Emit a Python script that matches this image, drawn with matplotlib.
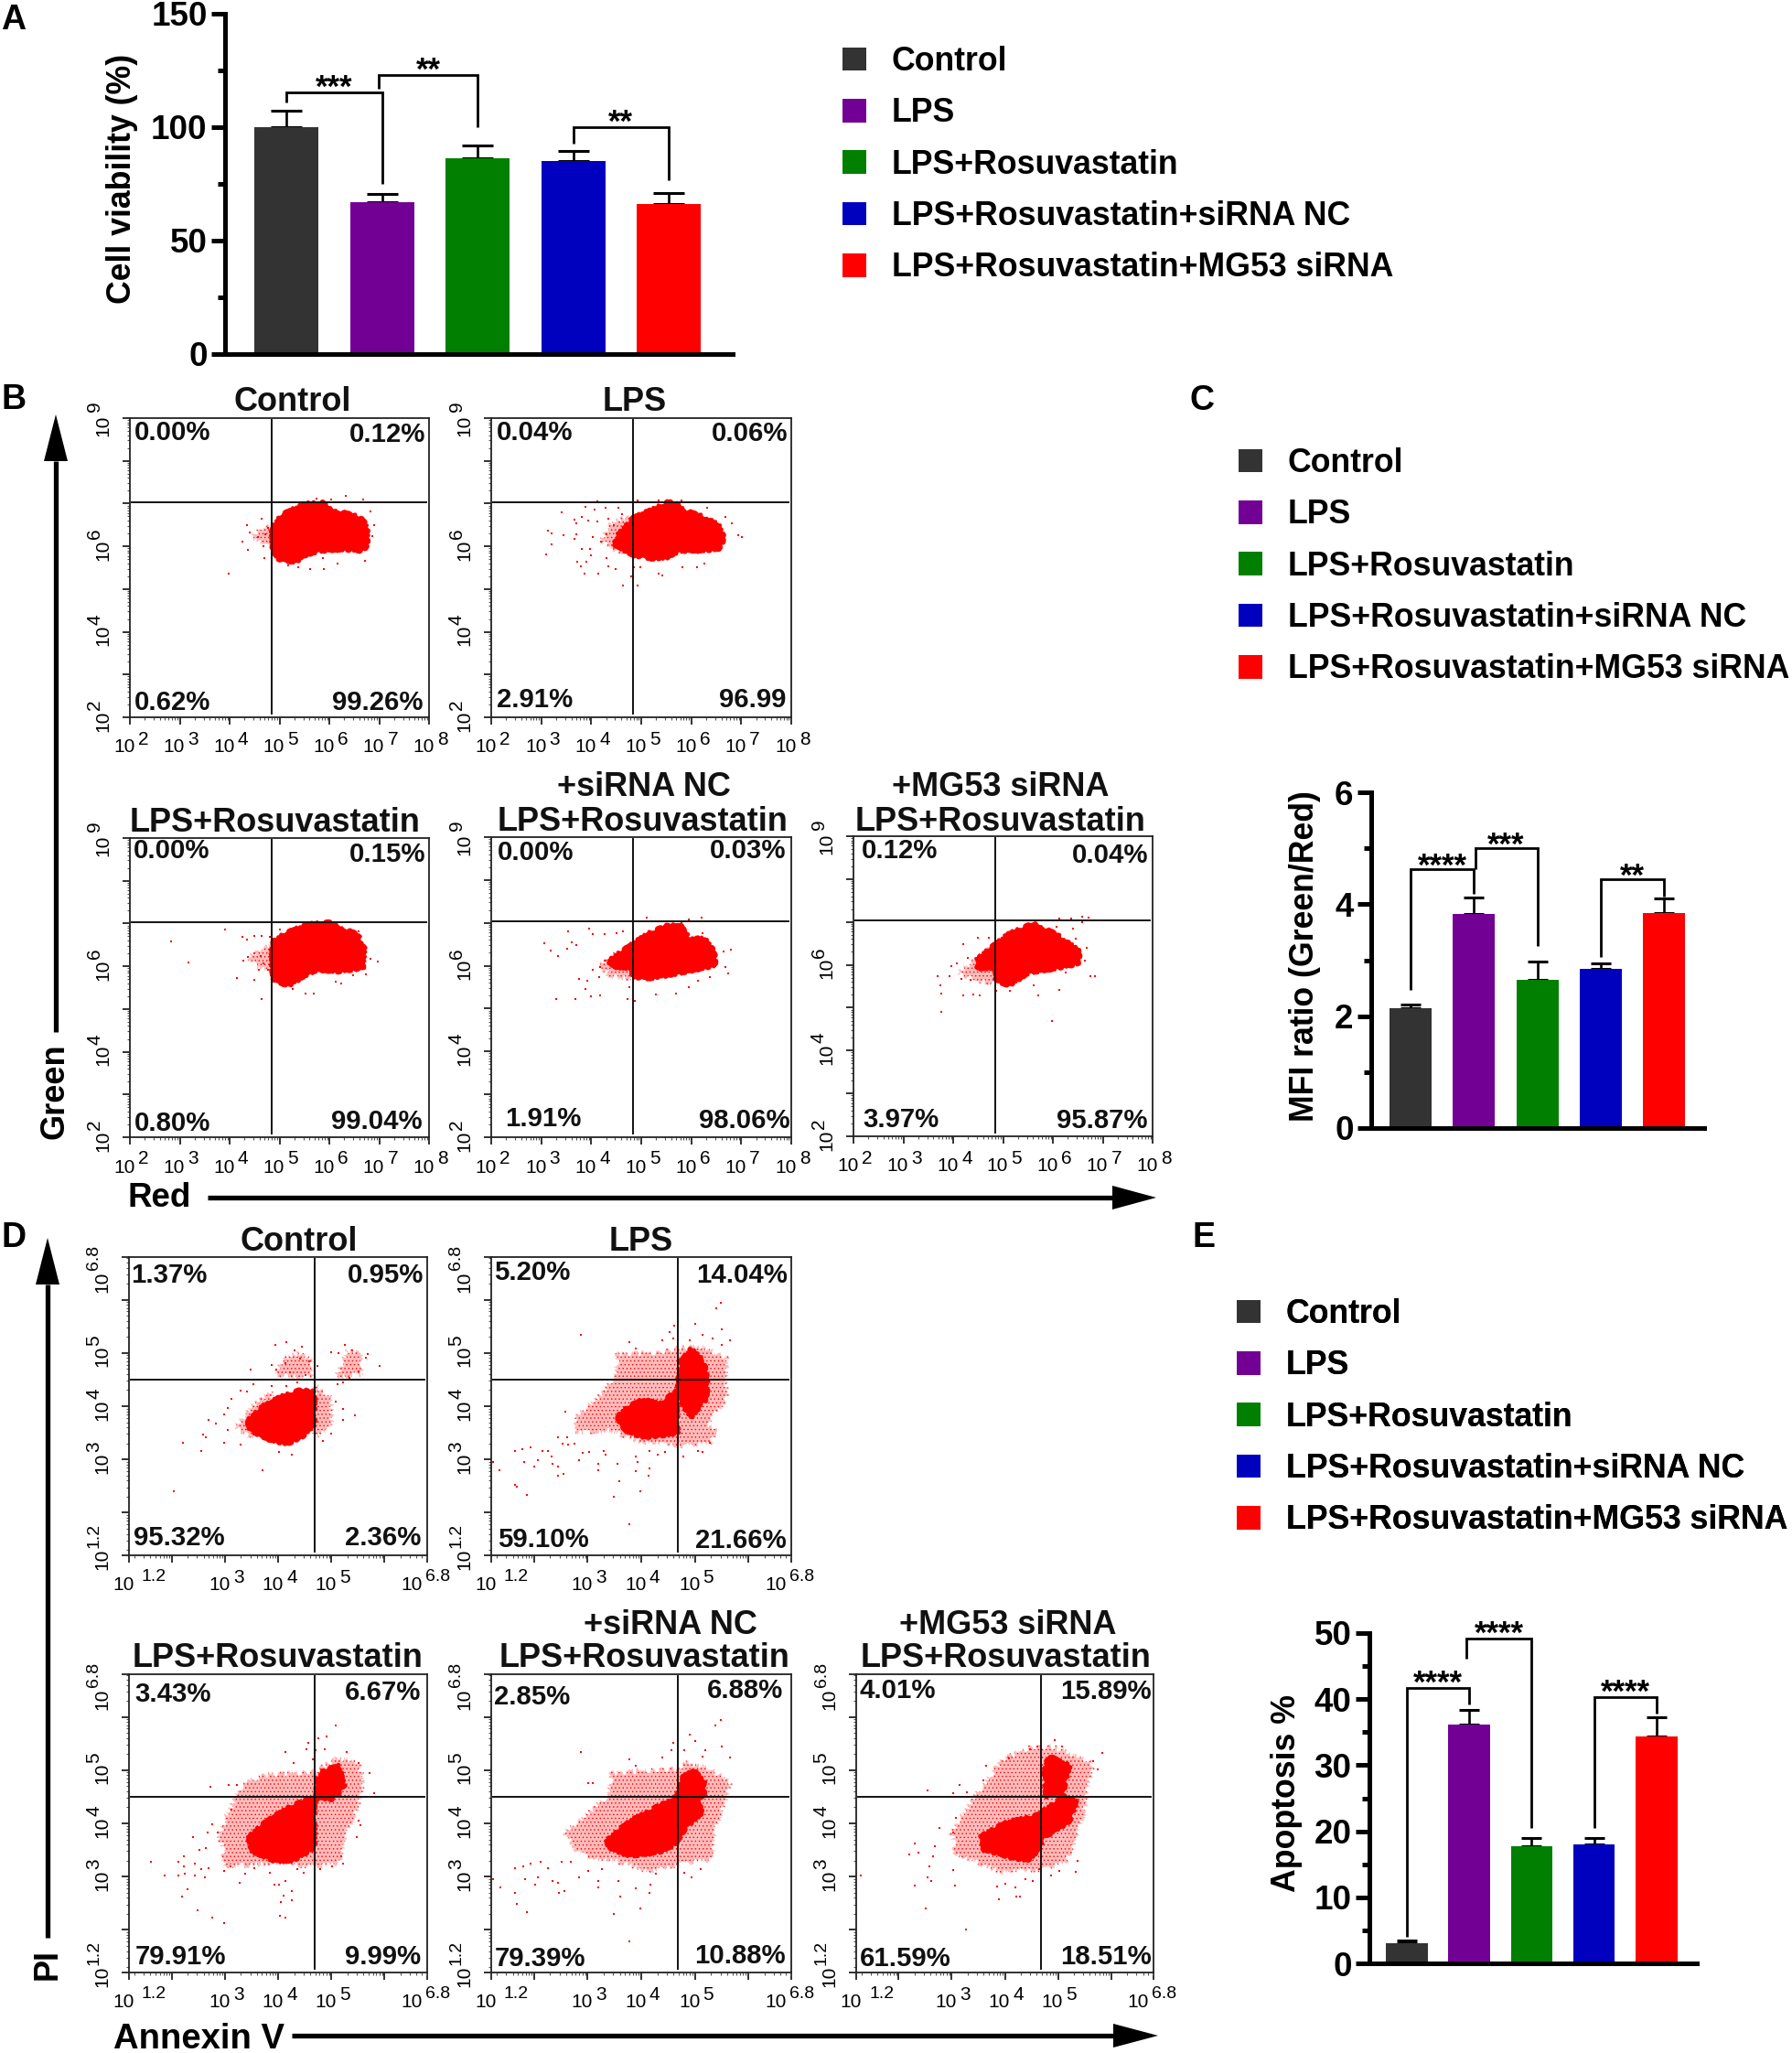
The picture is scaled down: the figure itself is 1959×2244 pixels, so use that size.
import matplotlib
matplotlib.use("Agg")
import matplotlib.pyplot as plt
import numpy as np
from matplotlib.patches import Patch, Polygon
from matplotlib.ticker import FixedLocator, NullFormatter, LogLocator

plt.rcParams['font.family'] = ['Liberation Sans', 'DejaVu Sans']
plt.rcParams['hatch.linewidth'] = 0.5

W, H = 1959, 2244
RED = '#ff0000'

# ---------- bar data ----------
GROUPS = ['Control', 'LPS', 'LPS+Rosuvastatin', 'LPS+Rosuvastatin+siRNA NC', 'LPS+Rosuvastatin+MG53 siRNA']
COLORS = ['#333333', '#730094', '#007f00', '#0000bf', '#ff0000']

VIABILITY = [100, 67, 86, 85, 66]
VIABILITY_TOP = [107, 70.5, 92, 89.5, 71]
MFI = [2.14, 3.83, 2.65, 2.84, 3.85]
MFI_TOP = [2.2, 4.12, 2.97, 2.95, 4.1]
APOPTOSIS = [3.05, 36.15, 17.7, 18.05, 34.4]
APOPTOSIS_TOP = [3.46, 38.4, 19, 19, 37.2]

# bracket: x left, x right, y of left leg end, y of bar, y of right leg end, stars
BRACKETS_A = [(0, 1, 110.7, 115, 74.8, '***'), (0.97, 2, 116.8, 123, 100, '**'), (3, 4, 92.6, 100, 76.5, '**')]
BRACKETS_C = [(0, 1, 2.47, 4.63, 4.19, '****'), (1.02, 2, 4.63, 5.0, 3.25, '***'), (3, 4, 3.05, 4.45, 4.14, '**')]
BRACKETS_E = [(0, 1, 4.06, 41.7, 39.15, '****'), (0.95, 2, 46.1, 49.2, 20.45, '****'), (3, 4, 20.45, 40.3, 37.8, '****')]

# ---------- flow cytometry: values are log10 of the channel ----------
B_GATE = (4.84, 7.03)
D_GATE = (4.68, 4.49)

B_CTRL_CORE = [[(4.85,6.43),(5.05,6.73),(5.26,6.86),(5.54,7.00),(5.87,7.02),(6.02,6.86),(6.30,6.78),(6.67,6.66),(6.76,6.36),(6.76,6.0),(6.64,5.90),(6.30,5.93),(5.81,5.90),(5.50,5.79),(5.35,5.65),(5.02,5.65),(4.86,5.93)]]
B_CTRL_SPARSE = [[(4.45,6.2),(4.62,6.42),(4.85,6.5),(4.85,5.95),(4.65,6.05)]]
B_CTRL_DOTS = [(4.34,6.50),(4.65,6.65),(4.25,6.11),(4.40,6.33),(4.56,6.22),(4.71,6.29),(4.77,6.43),(4.68,6.01),(4.37,5.92),(4.70,5.73),(3.99,5.36),(6.33,7.17),(6.67,7.09),(6.82,6.81),(6.90,6.50),(6.86,6.23),(6.71,5.65),(5.89,5.46),(5.61,5.47),(5.38,5.51),(5.17,5.56),(6.17,5.59),(5.87,5.72),(5.75,7.11),(6.04,7.09)]

B_LPS_CORE = [[(4.55,6.29),(4.86,6.68),(5.22,6.86),(5.53,7.03),(5.71,7.0),(5.89,6.83),(6.26,6.68),(6.54,6.50),(6.66,6.18),(6.54,5.93),(6.14,5.90),(5.77,5.90),(5.47,5.72),(5.16,5.72),(4.86,5.79),(4.46,6.04)]]
B_LPS_SPARSE = [[(4.2,6.1),(4.35,6.5),(4.6,6.65),(4.86,6.7),(4.86,5.8),(4.5,5.9)]]
B_LPS_DOTS = [(3.40,6.80),(3.13,6.36),(3.21,6.31),(3.44,6.27),(3.21,6.04),(3.09,5.81),(3.67,6.63),(3.71,6.53),(3.88,6.93),(3.82,6.68),(3.94,6.61),(4.06,6.86),(4.12,6.58),(4.28,6.90),(4.34,6.65),(3.70,6.28),(3.67,6.18),(4.03,6.22),(4.19,6.11),(4.30,6.29),(3.82,5.93),(3.98,5.93),(4.0,5.79),(3.72,5.64),(3.79,5.54),(3.91,5.64),(3.87,5.36),(4.14,5.36),(4.31,5.72),(4.34,5.54),(4.49,5.47),(4.64,5.09),(4.80,5.29),(4.92,5.09),(4.86,5.51),(4.98,5.51),(5.35,5.36),(5.42,5.31),(5.83,5.51),(6.11,5.51),(6.26,5.59),(6.81,7.04),(6.93,6.25),(7.01,6.22),(6.81,6.53),(6.69,6.68),(6.32,6.90),(4.92,7.07),(5.35,7.07),(5.80,7.07),(4.12,7.05),(4.55,6.90),(4.61,6.75),(4.46,6.50)]

B_ROS_CORE = [[(4.85,6.56),(5.11,6.76),(5.35,6.88),(5.63,6.99),(5.99,7.02),(6.18,6.92),(6.57,6.74),(6.70,6.42),(6.67,5.96),(6.18,5.88),(5.75,5.92),(5.50,5.78),(5.20,5.56),(4.89,5.64),(4.85,5.99)]]
B_ROS_SPARSE = [[(4.4,6.2),(4.6,6.4),(4.85,6.5),(4.85,5.9),(4.55,5.95)]]
B_ROS_DOTS = [(2.83,6.58),(3.18,6.09),(3.91,6.86),(4.14,5.73),(4.50,5.69),(4.65,5.23),(4.25,6.68),(4.34,6.63),(4.50,6.72),(4.65,6.72),(4.80,6.69),(4.28,6.13),(4.37,6.21),(4.50,6.31),(4.62,6.24),(4.59,5.92),(4.68,6.06),(4.77,5.91),(5.53,5.36),(5.68,5.36),(5.26,5.46),(6.24,5.59),(6.12,5.64),(6.47,5.78),(6.74,5.81),(6.82,6.17),(6.97,6.11),(5.0,6.86),(6.15,6.95),(6.59,6.81)]

B_NC_CORE = [[(4.36,6.12),(4.83,6.51),(5.15,6.76),(5.53,6.94),(5.76,6.98),(5.95,6.65),(6.27,6.62),(6.46,6.33),(6.48,6.01),(6.09,5.91),(5.62,5.80),(5.06,5.69),(4.83,5.76),(4.83,5.94),(4.41,5.98)]]
B_NC_SPARSE = [[(4.15,6.0),(4.5,6.3),(4.83,6.5),(4.83,5.7),(4.4,5.75)]]
B_NC_DOTS = [(3.07,6.53),(3.18,6.35),(3.33,6.23),(3.53,6.81),(3.61,6.55),(3.71,6.49),(3.52,6.40),(3.96,6.87),(4.03,6.73),(4.27,6.73),(4.50,6.76),(4.64,6.80),(3.29,5.23),(3.68,5.23),(3.99,5.29),(4.17,5.31),(3.88,5.46),(3.75,5.69),(3.92,5.66),(4.15,5.73),(4.03,5.91),(4.17,5.98),(4.27,6.12),(4.73,5.23),(4.87,5.18),(4.76,5.51),(5.29,5.32),(5.69,5.36),(5.95,5.49),(6.13,5.66),(6.37,5.73),(6.74,5.83),(6.69,5.98),(6.79,6.37),(6.65,6.33),(5.11,7.12),(5.95,7.08),(6.20,7.12),(6.23,6.76),(5.81,7.01)]

B_MG_CORE = [[(4.49,6.14),(4.86,6.49),(5.14,6.74),(5.61,6.96),(6.07,6.71),(6.54,6.31),(6.50,6.03),(6.07,5.92),(5.51,5.82),(5.14,5.53),(4.86,5.60),(4.86,5.92),(4.49,5.92)]]
B_MG_SPARSE = [[(4.1,5.8),(4.5,6.2),(4.86,6.5),(4.86,5.55),(4.4,5.65)]]
B_MG_DOTS = [(3.69,5.73),(3.74,5.53),(3.77,5.32),(3.77,4.91),(3.97,5.96),(3.93,5.74),(4.21,5.28),(4.41,5.30),(4.53,5.28),(4.21,6.49),(4.49,6.64),(4.72,6.64),(4.07,6.03),(4.30,6.17),(4.16,5.67),(4.35,5.64),(5.98,4.69),(5.70,5.28),(6.12,5.41),(5.61,5.53),(6.26,5.82),(6.76,5.74),(6.84,5.73),(6.64,6.10),(6.68,6.39),(6.59,6.99),(6.71,7.11),(6.59,7.12),(6.36,7.08),(6.12,7.08),(5.79,7.04),(6.07,6.89),(6.40,6.85),(6.45,6.60),(5.14,5.39),(4.86,5.39)]

D_CTRL_CORE = [[(3.42,3.72),(3.70,3.98),(4.05,4.18),(4.39,4.29),(4.68,4.29),(4.68,3.66),(4.45,3.43),(4.16,3.29),(3.82,3.38),(3.48,3.55)]]
D_CTRL_SPARSE = [[(4.68,4.4),(5.0,4.15),(5.0,3.6),(4.68,3.4)],[(5.1,4.55),(5.3,5.05),(5.55,5.0),(5.6,4.6)],[(3.2,3.6),(3.5,4.0),(3.9,4.3),(3.9,3.9),(3.5,3.4)],[(3.95,4.6),(4.1,4.9),(4.4,5.0),(4.65,4.85),(4.65,4.55),(4.3,4.55)]]
D_CTRL_DOTS = [(2.04,2.40),(3.70,2.80),(2.21,3.31),(2.55,3.16),(2.59,3.46),(2.64,3.42),(2.70,3.75),(2.83,3.67),(2.99,3.31),(3.05,3.55),(2.99,3.85),(3.05,3.96),(3.12,4.14),(3.30,4.29),(3.41,4.28),(3.53,4.41),(3.49,4.68),(3.66,4.49),(3.88,4.38),(3.30,3.27),(4.02,3.14),(4.25,3.09),(5.45,3.82),(5.22,3.75),(5.22,3.94),(5.08,4.09),(5.0,3.49),(4.85,3.35),(5.91,4.75),(5.68,4.98),(5.65,4.91),(5.51,4.65),(5.39,5.05),(5.25,5.15),(5.14,5.0),(5.0,5.01),(5.34,4.53),(5.22,4.44),(5.11,4.41),(4.16,5.2),(3.95,5.15),(4.45,5.11),(4.31,5.05),(3.88,4.78),(3.96,4.69),(4.13,4.81),(4.42,4.89),(4.59,4.84),(4.74,4.75),(4.51,4.58),(4.22,4.64),(4.16,4.38),(4.36,4.44)]

D_LPS_CORE = [[(3.55,3.80),(3.75,3.98),(4.02,4.12),(4.36,4.05),(4.65,4.28),(4.68,3.50),(4.36,3.45),(4.02,3.42),(3.70,3.55)],[(4.68,4.46),(4.76,4.87),(4.93,5.07),(5.15,4.87),(5.25,4.46),(5.20,4.12),(4.93,3.80),(4.72,4.12)]]
D_LPS_SPARSE = [[(2.76,3.78),(3.27,4.24),(3.50,4.58),(3.56,4.98),(4.36,5.01),(4.71,5.09),(5.11,5.12),(5.59,4.92),(5.59,4.12),(5.22,3.66),(5.39,3.55),(5.28,3.29),(4.76,3.26),(4.02,3.32),(3.39,3.55),(2.82,3.49)]]
D_LPS_DOTS = [(2.87,5.34),(1.24,2.95),(1.35,2.80),(1.64,3.16),(1.78,3.20),(1.94,3.23),(1.82,2.95),(2.0,2.86),(2.07,2.99),(2.16,3.16),(2.26,3.16),(2.33,3.06),(2.35,2.91),(2.44,2.87),(2.44,2.69),(2.55,2.73),(1.64,2.52),(1.68,2.49),(1.86,2.33),(2.53,3.29),(2.61,3.42),(2.59,3.89),(2.44,3.42),(2.63,3.27),(2.76,3.29),(2.84,2.99),(2.90,3.12),(3.02,3.14),(3.20,2.91),(3.20,2.80),(3.30,3.16),(3.33,3.09),(3.49,2.30),(3.59,2.60),(3.56,2.91),(3.78,1.79),(3.99,2.40),(3.90,2.78),(3.93,2.95),(3.90,3.06),(4.16,2.83),(4.13,2.69),(4.16,3.15),(4.30,3.09),(4.45,3.14),(4.79,3.05),(5.05,3.16),(5.15,3.14),(5.28,3.31),(3.78,5.20),(3.89,5.08),(4.39,5.23),(4.53,5.40),(4.61,5.52),(4.60,5.27),(5.0,5.55),(5.15,5.34),(5.33,5.27),(5.48,5.94),(5.40,5.84),(5.51,5.44),(5.65,5.23),(4.91,5.23),(5.51,5.15)]

D_ROS_CORE = [[(3.45,3.75),(3.80,4.05),(4.20,4.30),(4.68,4.50),(4.68,3.55),(4.28,3.30),(3.93,3.30),(3.50,3.48)],[(4.72,4.78),(4.85,4.98),(5.14,5.08),(5.25,4.68),(5.0,4.45),(4.72,4.45)]]
D_ROS_SPARSE = [[(2.90,3.77),(3.02,4.11),(3.36,4.80),(3.82,4.91),(4.68,4.97),(5.11,5.23),(5.54,5.14),(5.60,4.62),(5.42,4.11),(5.25,3.71),(5.14,3.25),(4.74,3.19),(3.93,3.25),(3.02,3.19)]]
D_ROS_DOTS = [(1.61,3.28),(1.87,3.02),(2.12,3.02),(2.12,3.28),(2.23,3.38),(2.23,3.20),(2.24,3.05),(2.30,2.76),(2.20,2.62),(2.48,2.37),(2.77,2.23),(2.99,2.12),(2.44,3.25),(2.44,3.02),(2.56,3.14),(2.63,2.99),(2.70,3.16),(2.53,3.51),(2.64,3.54),(2.73,4.68),(2.41,3.75),(2.67,3.82),(2.77,3.99),(2.87,3.82),(2.99,3.11),(3.10,3.19),(3.27,2.88),(3.39,3.05),(3.56,3.16),(3.85,3.08),(3.93,2.85),(4.02,2.85),(4.14,2.92),(4.25,2.73),(4.10,2.65),(4.25,2.55),(4.06,2.52),(4.04,2.26),(4.14,2.23),(4.36,3.14),(4.48,3.07),(4.79,3.14),(5.02,3.20),(5.22,3.24),(5.19,3.39),(5.48,3.74),(5.55,3.97),(5.51,4.06),(5.80,4.57),(5.72,4.94),(5.51,5.14),(5.29,5.34),(5.08,5.84),(4.91,5.63),(4.76,5.60),(4.87,5.39),(4.71,5.37),(4.57,5.51),(4.54,5.40),(4.14,5.34),(4.65,5.21),(4.30,5.14),(3.07,4.72),(3.22,4.72),(3.13,4.25)]

D_NC_CORE = [[(3.36,3.68),(3.80,4.05),(4.24,4.28),(4.67,4.51),(4.67,3.65),(4.41,3.48),(3.80,3.39),(3.40,3.54)],[(4.67,4.51),(4.76,4.85),(4.98,5.0),(5.20,4.74),(5.15,4.48),(4.67,4.51)],[(4.67,4.45),(5.02,4.45),(5.15,4.22),(4.80,3.88),(4.67,3.65)]]
D_NC_SPARSE = [[(2.57,3.82),(2.92,4.11),(3.36,4.51),(3.45,4.94),(4.67,5.03),(4.85,5.14),(5.29,5.03),(5.68,4.74),(5.55,4.40),(5.37,3.82),(5.29,3.31),(4.76,3.25),(4.15,3.08),(3.71,3.25),(2.84,3.42)]]
D_NC_DOTS = [(1.24,2.95),(1.37,2.80),(1.65,3.16),(1.80,3.20),(1.94,3.25),(2.12,3.28),(2.25,3.16),(1.83,2.95),(2.02,2.85),(2.07,2.98),(2.35,2.91),(2.44,2.88),(2.46,2.69),(2.56,2.73),(1.65,2.69),(1.68,2.49),(1.87,2.33),(2.51,3.28),(2.68,3.28),(2.84,2.98),(3.01,3.11),(3.20,2.80),(3.20,2.91),(3.27,3.14),(3.49,2.30),(3.61,2.62),(3.57,2.91),(3.77,1.79),(3.99,2.40),(3.90,2.78),(4.15,2.69),(4.17,2.85),(4.28,3.05),(4.94,2.98),(4.80,3.08),(5.11,3.14),(2.88,5.34),(3.78,5.20),(3.89,5.08),(4.39,5.23),(4.59,5.51),(4.57,5.37),(4.80,5.37),(4.91,5.67),(5.01,5.54),(5.20,5.37),(5.15,5.25),(5.50,5.44),(5.65,5.23),(5.48,5.94),(5.39,5.84),(3.01,4.76),(3.10,4.76)]

D_MG_CORE = [[(3.56,3.77),(4.04,4.02),(4.68,4.17),(4.68,3.54),(4.43,3.31),(4.13,3.36),(3.60,3.51)],[(4.74,4.97),(4.83,5.26),(5.22,5.08),(5.09,4.57),(4.78,4.51)],[(4.70,4.22),(5.14,4.51),(5.35,4.40),(5.22,4.05),(4.92,3.82),(4.70,3.77)]]
D_MG_SPARSE = [[(2.99,3.82),(3.43,4.51),(3.95,5.20),(4.48,5.43),(4.92,5.43),(5.66,5.14),(5.57,4.74),(5.49,4.17),(5.31,3.65),(5.14,3.25),(4.70,3.14),(3.95,3.08),(3.08,3.42)]]
D_MG_DOTS = [(1.28,3.02),(2.20,3.42),(2.31,3.62),(2.37,3.45),(2.64,3.39),(2.68,3.57),(2.58,3.19),(2.55,2.99),(2.62,2.91),(2.30,2.83),(2.51,2.40),(3.06,2.83),(3.27,2.00),(3.03,3.12),(3.86,2.81),(3.89,2.58),(4.21,2.62),(4.28,2.62),(4.0,2.87),(4.20,2.79),(4.39,2.95),(4.52,2.92),(4.65,3.14),(4.87,3.02),(5.02,3.11),(5.34,3.09),(5.37,3.30),(5.84,5.33),(5.75,5.01),(5.66,5.16),(4.94,5.56),(5.07,5.45),(4.61,5.44),(4.48,5.40),(4.08,5.22),(3.65,5.08),(2.55,4.61),(3.03,4.57),(3.14,4.72),(3.29,4.58),(3.60,4.80),(3.08,4.11),(2.77,3.91),(3.03,3.82)]

# percent labels: upper left, upper right, lower left, lower right
B_CTRL_PCT = ['0.00%', '0.12%', '0.62%', '99.26%']
B_LPS_PCT = ['0.04%', '0.06%', '2.91%', '96.99']
B_ROS_PCT = ['0.00%', '0.15%', '0.80%', '99.04%']
B_NC_PCT = ['0.00%', '0.03%', '1.91%', '98.06%']
B_MG_PCT = ['0.12%', '0.04%', '3.97%', '95.87%']
D_CTRL_PCT = ['1.37%', '0.95%', '95.32%', '2.36%']
D_LPS_PCT = ['5.20%', '14.04%', '59.10%', '21.66%']
D_ROS_PCT = ['3.43%', '6.67%', '79.91%', '9.99%']
D_NC_PCT = ['2.85%', '6.88%', '79.39%', '10.88%']
D_MG_PCT = ['4.01%', '15.89%', '61.59%', '18.51%']

B_X_TICKS = [2, 3, 4, 5, 6, 7, 8]
B_Y_TICKS = [2, 3, 4, 5, 6, 7, 8, 9]
B_Y_LABELED = [2, 4, 6, 9]
D_TICKS = [1.2, 2, 3, 4, 5, 6, 6.8]
D_LABELED = [1.2, 3, 4, 5, 6.8]

# ---------- layout (pixels) ----------
fig = plt.figure(figsize=(W / 100, H / 100), dpi=100, facecolor='white')


def px_axes(l, t, r, b):
    return fig.add_axes([l / W, 1 - b / H, (r - l) / W, (b - t) / H])


ov = fig.add_axes([0, 0, 1, 1], zorder=20)
ov.set_xlim(0, W)
ov.set_ylim(H, 0)
ov.axis('off')


def bar_panel(box, xfirst, xstep, barw, vals, tops, ymax, major, minor, ylabel, label_xy, brackets, cap, star_off):
    l, t, r, b = box
    ax = px_axes(l, t, r, b)
    ax.set_xlim((l - xfirst) / xstep, (r - xfirst) / xstep)
    ax.set_ylim(0, ymax)
    x = np.arange(len(vals))
    ax.bar(x, vals, width=barw / xstep, color=COLORS, linewidth=0, zorder=2)
    for xi, v, tp in zip(x, vals, tops):
        ax.errorbar(xi, v, yerr=[[0], [tp - v]], color='black', elinewidth=1.9, capsize=cap, capthick=2.2, zorder=1)
    for s in ('top', 'right'):
        ax.spines[s].set_visible(False)
    for s in ('left', 'bottom'):
        ax.spines[s].set_linewidth(3.6)
    ax.set_xticks([])
    ax.set_yticks(major)
    ax.set_yticks(minor, minor=True)
    ax.tick_params(axis='y', which='major', length=11, width=3.6, pad=3)
    ax.tick_params(axis='y', which='minor', length=6, width=3.6)
    ax.patch.set_alpha(0)
    for lab in ax.get_yticklabels():
        lab.set_fontsize(26.5)
        lab.set_fontweight('bold')
    ax.set_ylabel(ylabel, fontsize=25.7, fontweight='bold', va='center', ha='center')
    ax.yaxis.set_label_coords((label_xy[0] - l) / (r - l), (b - label_xy[1]) / (b - t))
    for x0, x1, y0, ytop, y1, stars in brackets:
        ax.plot([x0, x0, x1, x1], [y0, ytop, ytop, y1], color='black', lw=2.0, solid_joinstyle='miter',
                solid_capstyle='butt', zorder=3, clip_on=False)
        ax.annotate(stars, xy=((x0 + x1) / 2, ytop), xytext=(0, star_off), textcoords='offset points',
                    ha='center', va='baseline', fontsize=25, fontweight='bold', annotation_clip=False)
    return ax


bar_panel((246, 14.5, 801, 387), 313, 104.5, 70, VIABILITY, VIABILITY_TOP, 150, [0, 50, 100, 150], [25, 75, 125],
          'Cell viability (%)', (134, 195), BRACKETS_A, 12.5, -3.5)
bar_panel((1499, 866, 1863, 1233), 1542, 69.3, 46, MFI, MFI_TOP, 6, [0, 2, 4, 6], [1, 3, 5],
          'MFI ratio (Green/Red)', (1426, 1045), BRACKETS_C, 8, -5)
bar_panel((1497, 1785, 1855, 2146), 1538, 68.2, 45.5, APOPTOSIS, APOPTOSIS_TOP, 50, [0, 10, 20, 30, 40, 50],
          [5, 15, 25, 35, 45], 'Apoptosis %', (1406, 1960), BRACKETS_E, 8, -3.5)

# legends
handles = [Patch(facecolor=c, edgecolor='none') for c in COLORS]
for lx, ly in [(921, 50), (1354, 489), (1352, 1419)]:
    lg = ov.legend(handles, GROUPS, loc='upper left', bbox_to_anchor=(lx, ly), bbox_transform=ov.transData,
                   frameon=False, borderpad=0, borderaxespad=0, handlelength=0.73, handleheight=0.73,
                   handletextpad=0.78, labelspacing=0.597, prop={'family': 'Liberation Sans', 'weight': 'bold', 'size': 25.7})
    ov.add_artist(lg)


def tick_text(ax, axis, v, exp, ten_off, exp_off):
    fs = 15
    efs = 15 if len(exp) == 1 else 14
    if axis == 'x':
        ax.annotate('10', xy=(10 ** v, 0), xycoords=('data', 'axes fraction'),
                    xytext=(ten_off * 0.72, -33 * 0.72), textcoords='offset points',
                    ha='center', va='center', fontsize=fs, annotation_clip=False)
        ax.annotate(exp, xy=(10 ** v, 0), xycoords=('data', 'axes fraction'),
                    xytext=(exp_off * 0.72, -24 * 0.72), textcoords='offset points',
                    ha='left', va='center', fontsize=efs, annotation_clip=False)
    else:
        ax.annotate('10', xy=(0, 10 ** v), xycoords=('axes fraction', 'data'),
                    xytext=(-29 * 0.72, -ten_off * 0.72), textcoords='offset points', rotation=90,
                    ha='center', va='center', fontsize=fs, annotation_clip=False)
        ax.annotate(exp, xy=(0, 10 ** v), xycoords=('axes fraction', 'data'),
                    xytext=(-38 * 0.72, exp_off * 0.72), textcoords='offset points', rotation=90,
                    ha='center', va='bottom', fontsize=efs, annotation_clip=False)


def flow_panel(box, xlim, ylim, xticks, yticks, xlabeled, ylabeled, gate, core, sparse, dots):
    ax = px_axes(*box)
    ax.set_xscale('log')
    ax.set_yscale('log')
    ax.set_xlim(10 ** xlim[0], 10 ** xlim[1])
    ax.set_ylim(10 ** ylim[0], 10 ** ylim[1])
    for poly in sparse:
        p = np.array(poly)
        patch = Polygon(10 ** p, closed=True, facecolor='#ffbcbc', edgecolor=RED, hatch='....', lw=0, zorder=1)
        patch.set_sketch_params(scale=3, length=6, randomness=8)
        ax.add_patch(patch)
    for poly in core:
        p = np.array(poly)
        patch = Polygon(10 ** p, closed=True, facecolor=RED, edgecolor=RED, lw=3, joinstyle='round', zorder=2)
        patch.set_sketch_params(scale=1.6, length=5, randomness=8)
        ax.add_patch(patch)
    d = np.array(dots)
    ax.scatter(10 ** d[:, 0], 10 ** d[:, 1], s=4.2, marker='s', c=RED, linewidths=0, zorder=2)
    ax.axvline(10 ** gate[0], ymin=0.012, ymax=0.995, color='#111111', lw=1.4, zorder=3)
    ax.axhline(10 ** gate[1], xmin=0.005, xmax=0.99, color='#111111', lw=1.4, zorder=3)
    for s in ax.spines.values():
        s.set_linewidth(1.3)
        s.set_color('#222222')
    ax.xaxis.set_major_locator(FixedLocator([10.0 ** v for v in xticks]))
    ax.yaxis.set_major_locator(FixedLocator([10.0 ** v for v in yticks]))
    ax.xaxis.set_minor_locator(LogLocator(base=10, subs=np.arange(2, 10), numticks=50))
    ax.yaxis.set_minor_locator(LogLocator(base=10, subs=np.arange(2, 10), numticks=50))
    ax.xaxis.set_major_formatter(NullFormatter())
    ax.yaxis.set_major_formatter(NullFormatter())
    ax.xaxis.set_minor_formatter(NullFormatter())
    ax.yaxis.set_minor_formatter(NullFormatter())
    ax.tick_params(which='major', length=6, width=1.3, color='#222222')
    ax.tick_params(which='minor', length=2.2, width=0.8, color='#555555')
    for v in xlabeled:
        e = str(v)
        if v == 6.8:
            tick_text(ax, 'x', v, e, -17, -2)
        else:
            tick_text(ax, 'x', v, e, -6, 9 if v != 1.2 else 14)
    for v in ylabeled:
        e = str(v)
        if v == 6.8:
            tick_text(ax, 'y', v, e, 27, -14)
        elif v == 9:
            tick_text(ax, 'y', v, e, 8, 7)
        else:
            tick_text(ax, 'y', v, e, 4, 8)
    return ax


B_LIM = ((2, 8), (2, 9))
D_LIM = ((1.2, 6.8), (1.2, 6.8))

B_PANELS = [
    ((142, 457, 469, 784), B_CTRL_CORE, B_CTRL_SPARSE, B_CTRL_DOTS),
    ((537, 457, 865, 784), B_LPS_CORE, B_LPS_SPARSE, B_LPS_DOTS),
    ((142, 916, 469, 1243), B_ROS_CORE, B_ROS_SPARSE, B_ROS_DOTS),
    ((537, 915, 865, 1243), B_NC_CORE, B_NC_SPARSE, B_NC_DOTS),
    ((933, 914, 1260, 1242), B_MG_CORE, B_MG_SPARSE, B_MG_DOTS),
]
D_PANELS = [
    ((141, 1374, 467, 1700), D_CTRL_CORE, D_CTRL_SPARSE, D_CTRL_DOTS),
    ((537, 1374, 865, 1700), D_LPS_CORE, D_LPS_SPARSE, D_LPS_DOTS),
    ((141, 1830, 467, 2156), D_ROS_CORE, D_ROS_SPARSE, D_ROS_DOTS),
    ((537, 1830, 865, 2156), D_NC_CORE, D_NC_SPARSE, D_NC_DOTS),
    ((936, 1830, 1261, 2156), D_MG_CORE, D_MG_SPARSE, D_MG_DOTS),
]
for box, core, sparse, dots in B_PANELS:
    flow_panel(box, B_LIM[0], B_LIM[1], B_X_TICKS, B_Y_TICKS, B_X_TICKS, B_Y_LABELED, B_GATE, core, sparse, dots)
for box, core, sparse, dots in D_PANELS:
    flow_panel(box, D_LIM[0], D_LIM[1], D_TICKS, D_TICKS, D_LABELED, D_LABELED, D_GATE, core, sparse, dots)

# percent labels: (left/right px, centre y px) for UL, UR, LL, LR
PCT_LAYOUT = [
    (B_CTRL_PCT, [(147, 473), (465, 475), (147, 768), (463, 768)]),
    (B_LPS_PCT, [(543, 473), (861, 474), (543, 765), (859, 765)]),
    (B_ROS_PCT, [(146, 930), (465, 934), (147, 1228), (462, 1226)]),
    (B_NC_PCT, [(544, 932), (859, 930), (552, 1223), (864, 1225)]),
    (B_MG_PCT, [(942, 930), (1255, 935), (943, 1224), (1255, 1225)]),
    (D_CTRL_PCT, [(143, 1394), (463, 1394), (146, 1681), (460, 1681)]),
    (D_LPS_PCT, [(540, 1391), (861, 1394), (544, 1683), (860, 1684)]),
    (D_ROS_PCT, [(147, 1852), (460, 1850), (148, 2139), (460, 2139)]),
    (D_NC_PCT, [(540, 1855), (856, 1848), (541, 2141), (859, 2138)]),
    (D_MG_PCT, [(940, 1848), (1259, 1849), (940, 2141), (1259, 2139)]),
]
for labels, places in PCT_LAYOUT:
    for i, (lab, (x, y)) in enumerate(zip(labels, places)):
        ov.text(x, y, lab, ha='left' if i % 2 == 0 else 'right', va='center', fontsize=21.2, fontweight='bold', color='#111111')

TITLES = [
    ('Control', 320, 439), ('LPS', 694, 439), ('LPS+Rosuvastatin', 301, 899),
    ('+siRNA NC', 704, 860), ('LPS+Rosuvastatin', 703, 898),
    ('+MG53 siRNA', 1094, 860), ('LPS+Rosuvastatin', 1094, 898),
    ('Control', 327, 1357), ('LPS', 701, 1357), ('LPS+Rosuvastatin', 304, 1812),
    ('+siRNA NC', 733, 1776), ('LPS+Rosuvastatin', 705, 1812),
    ('+MG53 siRNA', 1102, 1776), ('LPS+Rosuvastatin', 1100, 1812),
]
for s, x, y in TITLES:
    ov.text(x, y, s, ha='center', va='center', fontsize=26, fontweight='bold', color='#111111')

LETTERS = [('A', 15, 22), ('B', 15, 437), ('C', 1314, 438), ('D', 15, 1353), ('E', 1316, 1353)]
for s, x, y in LETTERS:
    ov.text(x, y, s, ha='center', va='center', fontsize=27, fontweight='bold', color='black')

AXIS_WORDS = [('Green', 60, 1193, 90, 26), ('Red', 174, 1309, 0, 26.5), ('PI', 52, 2147, 90, 26), ('Annexin V', 217, 2229, 0, 27.5)]
for s, x, y, rot, fs in AXIS_WORDS:
    ov.text(x, y, s, ha='center', va='center', rotation=rot, fontsize=fs, fontweight='bold', color='black')


def v_arrow(x, tip, base, end):
    ov.plot([x, x], [base, end], color='black', lw=3.8, solid_capstyle='butt')
    ov.add_patch(Polygon([(x, tip), (x - 13, base), (x + 13, base)], closed=True, facecolor='black', lw=0))


def h_arrow(y, start, base, tip):
    ov.plot([start, base], [y, y], color='black', lw=3.8, solid_capstyle='butt')
    ov.add_patch(Polygon([(tip, y), (base, y - 13), (base, y + 13)], closed=True, facecolor='black', lw=0))


v_arrow(61, 453, 504, 1128)
h_arrow(1309, 227, 1216, 1264)
v_arrow(52, 1353, 1404, 2118)
h_arrow(2225, 319, 1217, 1266)

fig.savefig('out.png', dpi=100, facecolor='white')
